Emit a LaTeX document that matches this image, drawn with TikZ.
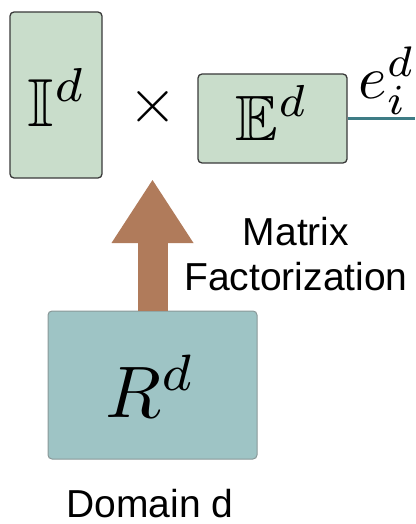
\documentclass[tikz,border=0pt]{standalone}
\usepackage{amssymb}
\usepackage{fontspec}
\newfontfamily\sansf{Liberation Sans}
\usetikzlibrary{arrows.meta}
\definecolor{boxgreen}{HTML}{C9DDCB}
\definecolor{boxedge}{HTML}{3A3A3A}
\definecolor{rfill}{HTML}{9EC4C5}
\definecolor{redge}{HTML}{8A9898}
\definecolor{arrowbrown}{HTML}{B07B5B}
\definecolor{tealline}{HTML}{3E7C85}
\begin{document}
\begin{tikzpicture}[x=1pt,y=-1pt,
  greenbox/.style={draw=boxedge, fill=boxgreen, line width=1.3pt, rounded corners=4pt, inner sep=0pt},
  rbox/.style={draw=redge, fill=rfill, line width=1pt, rounded corners=4pt, inner sep=0pt},
  mathlabel/.style={inner sep=0pt, transform shape},
  sanslabel/.style={inner sep=0pt, font=\sansf\fontsize{39}{45}\selectfont}]
\useasboundingbox (0,0) rectangle (415,524);
% boxes
\node[greenbox, minimum width=92pt, minimum height=166pt] (I) at (56,95) {};
\node[greenbox, minimum width=149pt, minimum height=89pt] (E) at (272.5,118.5) {};
\node[rbox, minimum width=209pt, minimum height=148pt] (R) at (152.5,385) {};
% math labels
\node[mathlabel, scale=6.8, anchor=base] (Itext) at (57,126) {$\mathbb{I}^d$};
\node[mathlabel, scale=6.3] (times) at (152.5,107) {$\times$};
\node[mathlabel, scale=6.4, anchor=base] (Etext) at (272,140) {$\mathbb{E}^d$};
\node[mathlabel, scale=7.3, anchor=base] (Rtext) at (151,417) {$R^d$};
\node[mathlabel, scale=6.1, anchor=base] (eid) at (387,99) {$e_i^d$};
% connector to the right
\coordinate (edge) at (415,118.5);
\draw[tealline, line width=2.4pt] (E.east) -- (edge);
% factorization arrow
\coordinate (tip) at (152.5,180);
\draw[arrowbrown, line width=30pt, -{Triangle[width=82pt,length=63pt,line width=0pt]}] (R.north) -- (tip);
% text
\node[sanslabel, anchor=base] (mtx) at (296,245) {Matrix};
\node[sanslabel, anchor=base] (fact) at (296,290) {Factorization};
\node[sanslabel, anchor=base] (dom) at (150,517) {Domain d};
\end{tikzpicture}
\end{document}
